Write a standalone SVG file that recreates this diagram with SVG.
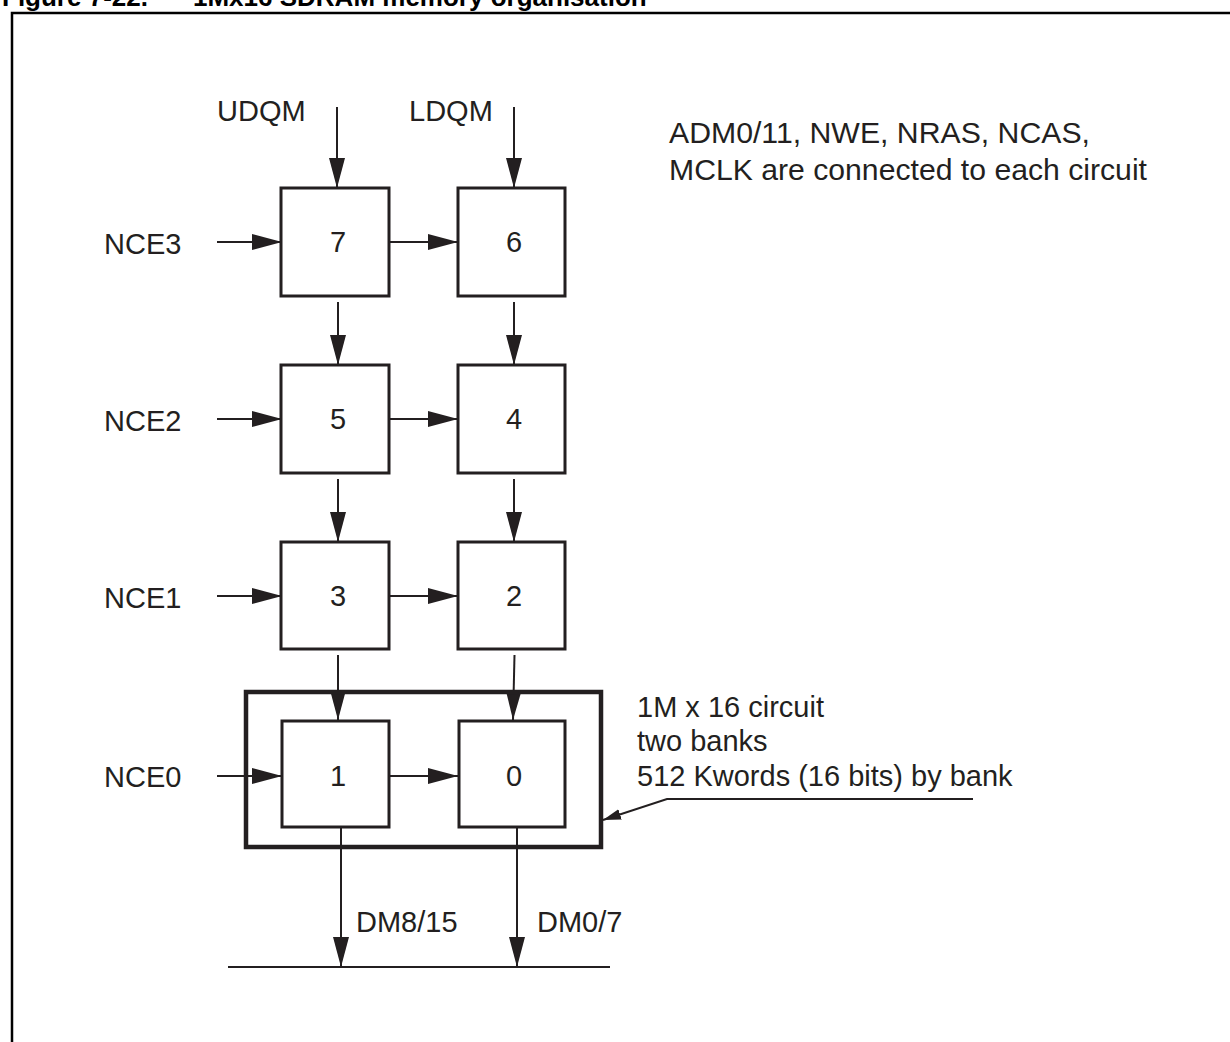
<svg xmlns="http://www.w3.org/2000/svg" width="1230" height="1042" viewBox="0 0 1230 1042">
<defs>
<style>
.t{font-family:"Liberation Sans",Arial,sans-serif;font-size:29px;fill:#231f20}
.title{font-family:"Liberation Sans",Arial,sans-serif;font-size:26px;font-weight:bold;fill:#000}
.box{fill:#fff;stroke:#231f20;stroke-width:3}
.c{stroke:#231f20;stroke-width:2;fill:none}
</style>
<marker id="ah" viewBox="0 0 30 16" refX="30" refY="8" markerWidth="30" markerHeight="16" markerUnits="userSpaceOnUse" orient="auto">
<polygon points="0,0 30,8 0,16" fill="#231f20"/>
</marker>
<marker id="as" viewBox="0 0 18 11" refX="18" refY="5.5" markerWidth="18" markerHeight="11" markerUnits="userSpaceOnUse" orient="auto">
<polygon points="0,0 18,5.5 0,11" fill="#231f20"/>
</marker>
</defs>
<rect width="1230" height="1042" fill="#fff"/>
<g id="title">
<text class="title" x="2" y="6">Figure 7-22.</text>
<text class="title" x="193" y="6">1Mx16 SDRAM memory organisation</text>
</g>
<g id="frame">
<path d="M12,1042 V13 H1230" fill="none" stroke="#000" stroke-width="2.5"/>
</g>
<g id="connectors">
<line class="c" x1="337" y1="107" x2="337" y2="188" marker-end="url(#ah)"/>
<line class="c" x1="514" y1="107" x2="514" y2="188" marker-end="url(#ah)"/>
<line class="c" x1="338" y1="302" x2="338" y2="365" marker-end="url(#ah)"/>
<line class="c" x1="514" y1="302" x2="514" y2="365" marker-end="url(#ah)"/>
<line class="c" x1="338" y1="479" x2="338" y2="542" marker-end="url(#ah)"/>
<line class="c" x1="514" y1="479" x2="514" y2="542" marker-end="url(#ah)"/>
<line class="c" x1="338" y1="655" x2="338" y2="720" marker-end="url(#ah)"/>
<line class="c" x1="514.5" y1="655" x2="513" y2="720" stroke-width="1.5" marker-end="url(#ah)"/>
<line class="c" x1="217" y1="242" x2="282" y2="242" marker-end="url(#ah)"/>
<line class="c" x1="217" y1="419" x2="282" y2="419" marker-end="url(#ah)"/>
<line class="c" x1="217" y1="596" x2="282" y2="596" marker-end="url(#ah)"/>
<line class="c" x1="217" y1="776" x2="282" y2="776" marker-end="url(#ah)"/>
<line class="c" x1="389" y1="242" x2="458" y2="242" marker-end="url(#ah)"/>
<line class="c" x1="389" y1="419" x2="458" y2="419" marker-end="url(#ah)"/>
<line class="c" x1="389" y1="596" x2="458" y2="596" marker-end="url(#ah)"/>
<line class="c" x1="389" y1="776" x2="458" y2="776" marker-end="url(#ah)"/>
<line class="c" x1="341" y1="825" x2="341" y2="967" marker-end="url(#ah)"/>
<line class="c" x1="517" y1="825" x2="517" y2="967" marker-end="url(#ah)"/>
<line class="c" x1="228" y1="967" x2="610" y2="967"/>
<polyline class="c" points="973,799 667,799 603,820" stroke-width="1.6" marker-end="url(#as)"/>
</g>
<g id="circuit">
<rect x="246" y="692" width="355" height="155" fill="none" stroke="#231f20" stroke-width="4.5"/>
</g>
<g id="node7"><rect class="box" x="281" y="188" width="108" height="108"/><text class="t" x="338" y="252" text-anchor="middle">7</text></g>
<g id="node6"><rect class="box" x="458" y="188" width="107" height="108"/><text class="t" x="514" y="252" text-anchor="middle">6</text></g>
<g id="node5"><rect class="box" x="281" y="365" width="108" height="108"/><text class="t" x="338" y="429" text-anchor="middle">5</text></g>
<g id="node4"><rect class="box" x="458" y="365" width="107" height="108"/><text class="t" x="514" y="429" text-anchor="middle">4</text></g>
<g id="node3"><rect class="box" x="281" y="542" width="108" height="107"/><text class="t" x="338" y="606" text-anchor="middle">3</text></g>
<g id="node2"><rect class="box" x="458" y="542" width="107" height="107"/><text class="t" x="514" y="606" text-anchor="middle">2</text></g>
<g id="node1"><rect class="box" x="282" y="721" width="107" height="106"/><text class="t" x="338" y="786" text-anchor="middle">1</text></g>
<g id="node0"><rect class="box" x="459" y="721" width="106" height="106"/><text class="t" x="514" y="786" text-anchor="middle">0</text></g>
<g id="labels">
<text class="t" x="217" y="121">UDQM</text>
<text class="t" x="409" y="121">LDQM</text>
<text class="t" x="669" y="143" textLength="421" lengthAdjust="spacingAndGlyphs">ADM0/11, NWE, NRAS, NCAS,</text>
<text class="t" x="669" y="180" textLength="478" lengthAdjust="spacingAndGlyphs">MCLK are connected to each circuit</text>
<text class="t" x="104" y="254">NCE3</text>
<text class="t" x="104" y="431">NCE2</text>
<text class="t" x="104" y="608">NCE1</text>
<text class="t" x="104" y="787">NCE0</text>
<text class="t" x="637" y="717">1M x 16 circuit</text>
<text class="t" x="637" y="751">two banks</text>
<text class="t" x="637" y="786">512 Kwords (16 bits) by bank</text>
<text class="t" x="356" y="932">DM8/15</text>
<text class="t" x="537" y="932">DM0/7</text>
</g>
</svg>
